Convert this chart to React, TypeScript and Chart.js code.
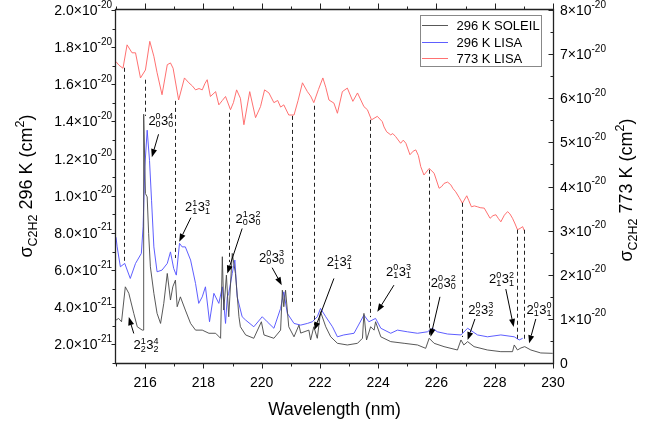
import React, { useEffect, useRef } from 'react';
import { Chart, registerables } from 'chart.js';

Chart.register(...registerables);

// ---------- data ----------
// 296 K SOLEIL, cross-section in units of 1e-21 cm^2
const soleilWl = [215.0, 215.09, 215.19, 215.32, 215.44, 215.61, 215.73, 215.9, 215.93, 215.95, 216.01, 216.07, 216.12, 216.18, 216.3, 216.41, 216.53, 216.64, 216.76, 216.87, 216.95, 217.04, 217.1, 217.21, 217.38, 217.56, 217.73, 217.96, 218.19, 218.42, 218.59, 218.65, 218.7, 218.79, 218.87, 218.99, 219.1, 219.22, 219.27, 219.45, 219.73, 219.99, 220.08, 220.42, 220.65, 220.71, 220.76, 220.82, 220.93, 221.11, 221.28, 221.34, 221.62, 221.68, 221.79, 221.91, 222.02, 222.2, 222.37, 222.6, 222.94, 223.29, 223.46, 223.51, 223.6, 223.74, 223.86, 223.91, 224.09, 224.43, 224.89, 225.35, 225.63, 225.75, 225.92, 226.26, 226.72, 226.84, 226.94, 227.07, 227.29, 227.75, 228.21, 228.61, 228.67, 228.78, 228.9, 229.03, 229.24, 229.58, 229.99];
const soleil296 = [3.31, 3.4, 3.22, 5.1, 4.75, 3.67, 2.95, 2.77, 2.77, 14.39, 10.12, 9.94, 7.97, 6.18, 4.75, 3.67, 3.13, 4.21, 5.82, 4.39, 5.1, 5.46, 4.03, 4.56, 3.85, 3.13, 2.77, 2.77, 2.6, 2.6, 2.33, 6.72, 3.85, 5.73, 3.49, 6.9, 5.82, 3.49, 2.95, 2.51, 2.33, 3.22, 2.51, 2.33, 2.77, 4.92, 4.03, 4.92, 2.95, 2.41, 3.04, 2.61, 2.77, 2.24, 2.95, 2.33, 3.76, 2.95, 2.41, 2.06, 1.97, 2.06, 2.33, 3.67, 2.24, 2.95, 2.77, 3.22, 2.41, 2.15, 2.06, 1.97, 1.79, 2.33, 2.06, 1.88, 1.7, 2.24, 1.97, 2.15, 1.88, 1.7, 1.61, 1.61, 1.97, 1.7, 1.81, 1.88, 1.7, 1.54, 1.52];

// 296 K LISA, units of 1e-21 cm^2
const lisa296Wl = [215.0, 215.04, 215.15, 215.3, 215.49, 215.67, 215.87, 215.93, 215.99, 216.07, 216.15, 216.22, 216.3, 216.41, 216.58, 216.76, 216.87, 216.98, 217.07, 217.18, 217.27, 217.38, 217.56, 217.73, 217.84, 217.96, 218.07, 218.21, 218.36, 218.53, 218.65, 218.76, 218.82, 218.87, 218.99, 219.08, 219.16, 219.33, 219.45, 219.73, 220.02, 220.19, 220.42, 220.65, 220.76, 220.88, 221.11, 221.34, 221.57, 221.74, 221.91, 222.02, 222.2, 222.43, 222.6, 222.82, 223.17, 223.51, 223.68, 223.91, 224.09, 224.43, 224.66, 225.0, 225.35, 225.69, 225.86, 226.03, 226.38, 226.84, 227.07, 227.41, 227.75, 228.21, 228.67, 228.84, 228.96];
const lisa296 = [7.77, 7.25, 6.18, 6.36, 5.55, 6.36, 6.9, 8.33, 11.55, 13.53, 11.91, 9.76, 7.25, 5.91, 6.0, 6.36, 6.98, 6.09, 5.73, 7.44, 7.25, 7.25, 6.54, 5.28, 4.21, 4.56, 5.1, 3.22, 4.75, 4.21, 5.1, 3.13, 4.56, 4.75, 5.82, 6.54, 4.56, 3.49, 3.31, 2.95, 3.49, 3.22, 2.87, 3.94, 4.83, 3.67, 3.13, 3.04, 3.13, 3.22, 3.49, 3.94, 3.49, 2.95, 2.41, 2.51, 2.6, 3.58, 3.22, 3.4, 2.87, 2.6, 2.77, 2.68, 2.6, 2.68, 2.87, 2.68, 2.56, 2.51, 2.87, 2.51, 2.41, 2.51, 2.41, 2.24, 2.33];

// 773 K LISA, units of 1e-20 cm^2 (right axis)
const lisa773Wl = [215.0, 215.1, 215.24, 215.38, 215.55, 215.67, 215.84, 216.01, 216.16, 216.3, 216.41, 216.58, 216.76, 216.87, 216.96, 217.15, 217.35, 217.5, 217.62, 217.73, 217.85, 217.96, 218.05, 218.13, 218.24, 218.42, 218.53, 218.65, 218.76, 218.93, 219.03, 219.14, 219.27, 219.39, 219.59, 219.79, 219.96, 220.1, 220.25, 220.42, 220.55, 220.65, 220.76, 220.93, 221.11, 221.25, 221.4, 221.57, 221.68, 221.79, 221.95, 222.1, 222.2, 222.31, 222.48, 222.6, 222.77, 222.94, 223.13, 223.29, 223.51, 223.63, 223.77, 223.97, 224.14, 224.2, 224.29, 224.43, 224.5, 224.6, 224.77, 224.86, 224.95, 225.09, 225.2, 225.29, 225.38, 225.46, 225.57, 225.75, 225.92, 226.09, 226.18, 226.26, 226.38, 226.49, 226.57, 226.66, 226.78, 226.89, 227.04, 227.11, 227.2, 227.3, 227.41, 227.5, 227.64, 227.84, 227.94, 228.04, 228.12, 228.21, 228.33, 228.44, 228.52, 228.61, 228.7, 228.78, 228.87, 228.96, 229.01];
const lisa773 = [6.83, 6.75, 6.68, 7.21, 7.03, 7.03, 6.46, 6.64, 7.29, 6.95, 6.58, 6.08, 6.76, 6.8, 6.68, 5.96, 6.46, 6.35, 6.28, 6.19, 6.22, 6.19, 6.33, 6.42, 6.04, 6.15, 5.85, 5.95, 6.04, 5.74, 5.9, 6.19, 6.0, 5.4, 6.15, 5.56, 5.81, 6.19, 6.12, 5.9, 5.95, 5.8, 5.85, 5.62, 5.62, 5.95, 6.35, 6.15, 6.05, 5.9, 6.2, 6.46, 6.25, 5.96, 5.89, 5.66, 6.15, 6.23, 5.93, 6.12, 5.81, 5.74, 5.51, 5.59, 5.47, 5.35, 5.24, 5.17, 5.2, 5.13, 4.98, 5.05, 4.98, 4.72, 4.8, 4.83, 4.7, 4.45, 4.26, 4.41, 4.3, 3.96, 4.0, 4.07, 4.1, 4.04, 3.95, 3.88, 3.75, 3.62, 3.79, 3.68, 3.54, 3.56, 3.54, 3.52, 3.51, 3.28, 3.34, 3.36, 3.28, 3.2, 3.35, 3.43, 3.38, 3.28, 3.15, 3.02, 3.05, 3.09, 3.0];

const seriesLabels = ['296 K SOLEIL', '296 K LISA', '773 K LISA'];

// axis ticks
const xMajorTicks = [216, 218, 220, 222, 224, 226, 228, 230];
const xMinorTicks = [215, 217, 219, 221, 223, 225, 227, 229];
const leftMajorTicks = [2e-21, 4e-21, 6e-21, 8e-21, 1.0e-20, 1.2e-20, 1.4e-20, 1.6e-20, 1.8e-20, 2.0e-20];
const leftTickMantissa = ['2.0', '4.0', '6.0', '8.0', '1.0', '1.2', '1.4', '1.6', '1.8', '2.0'];
const leftTickExponent = ['-21', '-21', '-21', '-21', '-20', '-20', '-20', '-20', '-20', '-20'];
const leftMinorTicks = [1e-21, 3e-21, 5e-21, 7e-21, 9e-21, 1.1e-20, 1.3e-20, 1.5e-20, 1.7e-20, 1.9e-20];
const rightMajorTicks = [0, 1e-20, 2e-20, 3e-20, 4e-20, 5e-20, 6e-20, 7e-20, 8e-20];
const rightTickMantissa = ['0', '1', '2', '3', '4', '5', '6', '7', '8'];
const rightTickExponent = ['', '-20', '-20', '-20', '-20', '-20', '-20', '-20', '-20'];
const rightMinorTicks = [0.5e-20, 1.5e-20, 2.5e-20, 3.5e-20, 4.5e-20, 5.5e-20, 6.5e-20, 7.5e-20];

// dashed guide lines: wavelength, top (773 K, 1e-20), bottom (296 K, 1e-21)
const guideWl = [215.26, 216.01, 217.04, 218.87, 221.05, 221.79, 223.72, 225.75, 226.89, 228.76, 228.99];
const guideTop = [6.69, 6.42, 5.94, 5.67, 5.6, 5.83, 5.51, 4.38, 3.63, 3.02, 3.02];
const guideBottom = [6.43, 14.3, 6.65, 6.43, 4.23, 3.04, 3.47, 2.4, 2.4, 2.24, 2.18];

// band assignments 2^a_b 3^c_d
const nu2Up = ['0', '1', '1', '0', '1', '0', '0', '0', '0', '0', '1'];
const nu2Low = ['0', '1', '0', '0', '1', '1', '0', '2', '1', '1', '2'];
const nu3Up = ['4', '3', '2', '3', '2', '3', '2', '3', '2', '0', '4'];
const nu3Low = ['0', '1', '0', '0', '1', '1', '0', '2', '1', '1', '2'];

// annotation placement in data coordinates (wavelength, 1e-21 cm^2 on left axis)
const bandAnnotations = [
  { lx: 216.54, ly: 14.06, fx: 216.46, fy: 13.31, tx: 216.23, ty: 12.08 },
  { lx: 217.8, ly: 9.41, fx: 217.57, fy: 8.82, tx: 217.17, ty: 7.53 },
  { lx: 219.53, ly: 8.8, fx: 219.33, fy: 8.24, tx: 218.82, ty: 5.82 },
  { lx: 220.34, ly: 6.7, fx: 220.36, fy: 6.13, tx: 220.69, ty: 5.19 },
  { lx: 222.66, ly: 6.46, fx: 222.48, fy: 5.55, tx: 221.81, ty: 2.77 },
  { lx: 224.7, ly: 5.95, fx: 224.54, fy: 5.19, tx: 223.97, ty: 3.76 },
  { lx: 226.23, ly: 5.35, fx: 226.12, fy: 4.56, tx: 225.8, ty: 2.41 },
  { lx: 227.52, ly: 3.88, fx: 227.32, fy: 3.37, tx: 227.07, ty: 2.24 },
  { lx: 228.23, ly: 5.54, fx: 228.38, fy: 4.98, tx: 228.65, ty: 2.94 },
  { lx: 229.52, ly: 3.88, fx: 229.41, fy: 3.37, tx: 229.18, ty: 2.06 },
  { lx: 216.03, ly: 1.97, fx: 215.61, fy: 2.59, tx: 215.44, ty: 3.47 },
];

const FONT = '"Liberation Sans", Arial, sans-serif';
const colors = ['rgba(70,70,70,0.9)', 'rgba(85,85,255,0.95)', 'rgba(255,105,105,0.95)'];

function toPoints(xs: number[], ys: number[], scale: number) {
  return xs.map((x, i) => ({ x, y: ys[i] * scale }));
}

function drawSci(ctx: CanvasRenderingContext2D, mant: string, exp: string, x: number, y: number, align: 'left' | 'right') {
  const main = exp ? mant + '×10' : mant;
  ctx.font = `14px ${FONT}`;
  const wm = ctx.measureText(main).width;
  ctx.font = `10px ${FONT}`;
  const we = exp ? ctx.measureText(exp).width : 0;
  const total = wm + we;
  const start = align === 'right' ? x - total : x;
  ctx.textAlign = 'left';
  ctx.textBaseline = 'alphabetic';
  ctx.font = `14px ${FONT}`;
  ctx.fillText(main, start, y + 5);
  if (exp) {
    ctx.font = `10px ${FONT}`;
    ctx.fillText(exp, start + wm, y - 2.5);
  }
}

function drawBand(ctx: CanvasRenderingContext2D, cx: number, cy: number, a: string, b: string, c: string, d: string) {
  const big = `13px ${FONT}`;
  const small = `9px ${FONT}`;
  ctx.font = big;
  const w2 = ctx.measureText('2').width;
  const w3 = ctx.measureText('3').width;
  ctx.font = small;
  const ws1 = Math.max(ctx.measureText(a).width, ctx.measureText(b).width);
  const ws2 = Math.max(ctx.measureText(c).width, ctx.measureText(d).width);
  const total = w2 + ws1 + 0.5 + w3 + ws2;
  let x = cx - total / 2;
  const base = cy + 4.5;
  ctx.textAlign = 'left';
  ctx.textBaseline = 'alphabetic';
  ctx.font = big;
  ctx.fillText('2', x, base);
  x += w2;
  ctx.font = small;
  ctx.fillText(a, x, base - 5.5);
  ctx.fillText(b, x, base + 2.5);
  x += ws1 + 0.5;
  ctx.font = big;
  ctx.fillText('3', x, base);
  x += w3;
  ctx.font = small;
  ctx.fillText(c, x, base - 5.5);
  ctx.fillText(d, x, base + 2.5);
}

function drawArrow(ctx: CanvasRenderingContext2D, x1: number, y1: number, x2: number, y2: number) {
  const ang = Math.atan2(y2 - y1, x2 - x1);
  const len = 8;
  const hw = 3;
  const bx = x2 - len * Math.cos(ang);
  const by = y2 - len * Math.sin(ang);
  ctx.strokeStyle = '#000';
  ctx.lineWidth = 1;
  ctx.beginPath();
  ctx.moveTo(x1, y1);
  ctx.lineTo(bx, by);
  ctx.stroke();
  ctx.fillStyle = '#000';
  ctx.beginPath();
  ctx.moveTo(x2, y2);
  ctx.lineTo(bx + hw * Math.sin(ang), by - hw * Math.cos(ang));
  ctx.lineTo(bx - hw * Math.sin(ang), by + hw * Math.cos(ang));
  ctx.closePath();
  ctx.fill();
}

function drawTitle(ctx: CanvasRenderingContext2D, bx: number, cy: number, temp: string) {
  const big = `18px ${FONT}`;
  const small = `12.5px ${FONT}`;
  const parts: { t: string; f: string; dy: number }[] = [
    { t: 'σ', f: big, dy: 0 },
    { t: 'C2H2', f: small, dy: 5 },
    { t: ` ${temp} K (cm`, f: big, dy: 0 },
    { t: '2', f: small, dy: -7.5 },
    { t: ')', f: big, dy: 0 },
  ];
  let total = 0;
  const widths = parts.map((p) => {
    ctx.font = p.f;
    const w = ctx.measureText(p.t).width;
    total += w;
    return w;
  });
  ctx.save();
  ctx.translate(bx, cy);
  ctx.rotate(-Math.PI / 2);
  ctx.textAlign = 'left';
  ctx.textBaseline = 'alphabetic';
  ctx.fillStyle = '#000';
  let x = -total / 2;
  parts.forEach((p, i) => {
    ctx.font = p.f;
    ctx.fillText(p.t, x, p.dy);
    x += widths[i];
  });
  ctx.restore();
}

const decorPlugin = {
  id: 'decor',
  afterDatasetsDraw(chart: any) {
    const ctx: CanvasRenderingContext2D = chart.ctx;
    const xs = chart.scales.x;
    const yl = chart.scales.y;
    const yr = chart.scales.y2;
    ctx.save();
    // dashed guides
    ctx.strokeStyle = '#222';
    ctx.lineWidth = 1;
    ctx.setLineDash([4, 3]);
    guideWl.forEach((wl, i) => {
      const px = Math.round(xs.getPixelForValue(wl)) + 0.5;
      ctx.beginPath();
      ctx.moveTo(px, yr.getPixelForValue(guideTop[i] * 1e-20));
      ctx.lineTo(px, yl.getPixelForValue(guideBottom[i] * 1e-21));
      ctx.stroke();
    });
    ctx.setLineDash([]);
    // band annotations
    bandAnnotations.forEach((an, i) => {
      drawArrow(
        ctx,
        xs.getPixelForValue(an.fx), yl.getPixelForValue(an.fy * 1e-21),
        xs.getPixelForValue(an.tx), yl.getPixelForValue(an.ty * 1e-21)
      );
      ctx.fillStyle = '#000';
      drawBand(ctx, xs.getPixelForValue(an.lx), yl.getPixelForValue(an.ly * 1e-21), nu2Up[i], nu2Low[i], nu3Up[i], nu3Low[i]);
    });
    ctx.restore();
  },
  afterDraw(chart: any) {
    const ctx: CanvasRenderingContext2D = chart.ctx;
    const { left, right, top, bottom } = chart.chartArea;
    const xs = chart.scales.x;
    const yl = chart.scales.y;
    const yr = chart.scales.y2;
    ctx.save();
    const L = left - 0.5;
    const R = right + 0.5;
    const T = top - 0.5;
    const B = bottom + 0.5;
    ctx.strokeStyle = '#222';
    ctx.lineWidth = 1.3;
    ctx.beginPath();
    ctx.rect(L, T, R - L, B - T);
    ctx.stroke();
    ctx.lineWidth = 1;
    const line = (x1: number, y1: number, x2: number, y2: number) => {
      ctx.beginPath();
      ctx.moveTo(x1, y1);
      ctx.lineTo(x2, y2);
      ctx.stroke();
    };
    // x ticks bottom & top (outward)
    xMajorTicks.forEach((v) => {
      const px = Math.round(xs.getPixelForValue(v)) + 0.5;
      line(px, B, px, B + 5);
      line(px, T, px, T - 6);
    });
    xMinorTicks.forEach((v) => {
      const px = Math.round(xs.getPixelForValue(v)) + 0.5;
      line(px, B, px, B + 3);
      line(px, T, px, T - 3);
    });
    // left ticks (outward)
    leftMajorTicks.forEach((v) => {
      const py = Math.round(yl.getPixelForValue(v)) + 0.5;
      line(L, py, L - 4, py);
    });
    leftMinorTicks.forEach((v) => {
      const py = Math.round(yl.getPixelForValue(v)) + 0.5;
      line(L, py, L - 3, py);
    });
    // right ticks (inward)
    rightMajorTicks.forEach((v) => {
      const py = Math.round(yr.getPixelForValue(v)) + 0.5;
      line(R, py, R - 5, py);
    });
    rightMinorTicks.forEach((v) => {
      const py = Math.round(yr.getPixelForValue(v)) + 0.5;
      line(R, py, R - 3, py);
    });
    // tick labels
    ctx.fillStyle = '#000';
    ctx.font = `14px ${FONT}`;
    ctx.textAlign = 'center';
    ctx.textBaseline = 'alphabetic';
    xMajorTicks.forEach((v) => {
      ctx.fillText(String(v), xs.getPixelForValue(v), 387);
    });
    leftMajorTicks.forEach((v, i) => {
      drawSci(ctx, leftTickMantissa[i], leftTickExponent[i], 112, yl.getPixelForValue(v), 'right');
    });
    rightMajorTicks.forEach((v, i) => {
      drawSci(ctx, rightTickMantissa[i], rightTickExponent[i], 560, yr.getPixelForValue(v), 'left');
    });
    // axis titles
    ctx.font = `17.5px ${FONT}`;
    ctx.textAlign = 'center';
    ctx.fillText('Wavelength (nm)', (left + right) / 2, 414.5);
    drawTitle(ctx, 31.5, 186, '296');
    drawTitle(ctx, 631.5, 190, '773');
    // legend
    const lx = 420.5, ly = 15.5, lw = 121, lh = 51;
    ctx.fillStyle = '#fff';
    ctx.fillRect(lx, ly, lw, lh);
    ctx.strokeStyle = '#888';
    ctx.lineWidth = 1;
    ctx.strokeRect(lx, ly, lw, lh);
    chart.data.datasets.forEach((ds: any, i: number) => {
      const ry = Math.round(25 + i * 16.7) + 0.5;
      ctx.strokeStyle = ds.borderColor;
      ctx.lineWidth = 1;
      line(422, ry, 448, ry);
      ctx.fillStyle = '#000';
      ctx.font = `13px ${FONT}`;
      ctx.textAlign = 'left';
      ctx.textBaseline = 'middle';
      ctx.fillText(ds.label, 456.5, ry + 0.5);
    });
    ctx.restore();
  },
};

export default function App() {
  const ref = useRef<HTMLCanvasElement | null>(null);
  useEffect(() => {
    document.body.style.margin = '0';
    const canvas = ref.current;
    if (!canvas) return;
    const chart = new Chart(canvas, {
      type: 'line',
      data: {
        datasets: [
          { label: seriesLabels[0], data: toPoints(soleilWl, soleil296, 1e-21), yAxisID: 'y', borderColor: colors[0], borderWidth: 1, pointRadius: 0, tension: 0 },
          { label: seriesLabels[1], data: toPoints(lisa296Wl, lisa296, 1e-21), yAxisID: 'y', borderColor: colors[1], borderWidth: 1, pointRadius: 0, tension: 0 },
          { label: seriesLabels[2], data: toPoints(lisa773Wl, lisa773, 1e-20), yAxisID: 'y2', borderColor: colors[2], borderWidth: 1, pointRadius: 0, tension: 0 },
        ],
      },
      options: {
        responsive: false,
        animation: false,
        devicePixelRatio: 1,
        layout: { padding: { top: 10, left: 0, right: 0, bottom: 0 } },
        plugins: { legend: { display: false }, tooltip: { enabled: false } },
        events: [],
        scales: {
          x: {
            type: 'linear', position: 'bottom', min: 215, max: 230,
            ticks: { display: false }, grid: { display: false, drawTicks: false }, border: { display: false },
            afterFit: (s: any) => { s.height = 62; },
          },
          y: {
            type: 'linear', position: 'left', min: 1e-21, max: 2e-20,
            ticks: { display: false }, grid: { display: false, drawTicks: false }, border: { display: false },
            afterFit: (s: any) => { s.width = 116; },
          },
          y2: {
            type: 'linear', position: 'right', min: 0, max: 8e-20,
            ticks: { display: false }, grid: { display: false, drawTicks: false }, border: { display: false },
            afterFit: (s: any) => { s.width = 103; },
          },
        },
      },
      plugins: [decorPlugin],
    } as any);
    return () => chart.destroy();
  }, []);
  return <canvas ref={ref} width={656} height={425} style={{ display: 'block' }} />;
}
